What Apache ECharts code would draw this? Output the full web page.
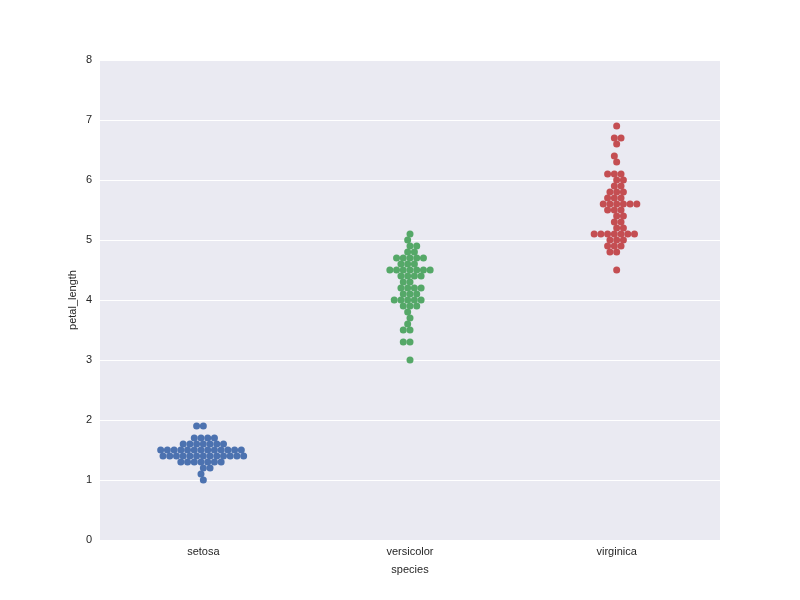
<!DOCTYPE html>
<html><head><meta charset="utf-8">
<script src="https://cdn.jsdelivr.net/npm/echarts@6/dist/echarts.min.js"></script>
<style>html,body{margin:0;padding:0;background:#fff}#c{width:800px;height:600px}</style>
</head><body><div id="c"></div>
<script>
var categories = ['setosa','versicolor','virginica'];
var setosa = [1.4,1.4,1.3,1.5,1.4,1.7,1.4,1.5,1.4,1.5,1.5,1.6,1.4,1.1,1.2,1.5,1.3,1.4,1.7,1.5,1.7,1.5,1.0,1.7,1.9,1.6,1.6,1.5,1.4,1.6,1.6,1.5,1.5,1.4,1.5,1.2,1.3,1.4,1.3,1.5,1.3,1.3,1.3,1.6,1.9,1.4,1.6,1.4,1.5,1.4];
var versicolor = [4.7,4.5,4.9,4.0,4.6,4.5,4.7,3.3,4.6,3.9,3.5,4.2,4.0,4.7,3.6,4.4,4.5,4.1,4.5,3.9,4.8,4.0,4.9,4.7,4.3,4.4,4.8,5.0,4.5,3.5,3.8,3.7,3.9,5.1,4.5,4.5,4.7,4.4,4.1,4.0,4.4,4.6,4.0,3.3,4.2,4.2,4.2,4.3,3.0,4.1];
var virginica = [6.0,5.1,5.9,5.6,5.8,6.6,4.5,6.3,5.8,6.1,5.1,5.3,5.5,5.0,5.1,5.3,5.5,6.7,6.9,5.0,5.7,4.9,6.7,4.9,5.7,6.0,4.8,4.9,5.6,5.8,6.1,6.4,5.6,5.1,5.6,6.1,5.6,5.5,4.8,5.4,5.6,5.1,5.1,5.9,5.7,5.2,5.0,5.2,5.4,5.1];
var yTicks = [0,1,2,3,4,5,6,7,8];
var colors = ['#4C72B0','#55A868','#C44E52'];

var GRID = {left:100, right:80, top:60, bottom:60};
var W = 800, H = 600;
var pxPerY = (H - GRID.top - GRID.bottom) / (yTicks[yTicks.length-1] - yTicks[0]);
var pxPerX = (W - GRID.left - GRID.right) / categories.length;
var D = 6.4;

function beeswarm(vals, center) {
  var pts = vals.map(function(v){ return {x:0, y:v*pxPerY, v:v}; });
  pts.sort(function(a,b){ return a.y - b.y; });
  var swarm = [pts[0]];
  for (var i = 1; i < pts.length; i++) {
    var p = pts[i];
    var nb = [];
    for (var j = swarm.length-1; j >= 0; j--) {
      if (p.y - swarm[j].y < D) nb.unshift(swarm[j]); else break;
    }
    var cands = [0];
    var leftFirst = true;
    nb.forEach(function(q){
      var dy = p.y - q.y;
      var dx = Math.sqrt(Math.max(D*D - dy*dy, 0)) * 1.05;
      if (leftFirst) cands.push(q.x - dx, q.x + dx); else cands.push(q.x + dx, q.x - dx);
      leftFirst = !leftFirst;
    });
    var idx = cands.map(function(c,k){return k;});
    idx.sort(function(a,b){ var d = Math.abs(cands[a]) - Math.abs(cands[b]); return d !== 0 ? d : a-b; });
    var chosen = 0;
    for (var k = 0; k < idx.length; k++) {
      var cx = cands[idx[k]];
      var ok = nb.every(function(q){ var ddx=q.x-cx, ddy=q.y-p.y; return ddx*ddx+ddy*ddy >= D*D - 1e-9; });
      if (ok) { chosen = cx; break; }
    }
    swarm.push({x:chosen, y:p.y, v:p.v});
  }
  return swarm.map(function(s){ return [center + s.x / pxPerX, s.v]; });
}

var groups = [setosa, versicolor, virginica];
var series = groups.map(function(g, i){
  return {type:'scatter', data: beeswarm(g, i), symbolSize: 7,
    itemStyle:{color: colors[i], opacity:1}, silent:true};
});

var chart = echarts.init(document.getElementById('c'), null, {renderer:'canvas'});
chart.setOption({
  animation:false,
  backgroundColor:'#fff',
  textStyle:{fontFamily:'Liberation Sans, Arial, sans-serif'},
  grid:{left:GRID.left, right:GRID.right, top:GRID.top, bottom:GRID.bottom, show:true, backgroundColor:'#EAEAF2', borderWidth:0},
  xAxis:{type:'value', min:-0.5, max:2.5, interval:0.5,
    axisLine:{show:false}, axisTick:{show:false}, splitLine:{show:false},
    axisLabel:{color:'#262626', fontSize:11, margin:6, showMinLabel:true, showMaxLabel:true,
      formatter:function(v){ var r=Math.round(v); return Math.abs(v-r)<1e-6 && r>=0 && r<categories.length ? categories[r] : ''; }},
    name:'species', nameLocation:'middle', nameGap:24, nameMoveOverlap:false, nameTextStyle:{color:'#262626', fontSize:11}},
  yAxis:{type:'value', min:yTicks[0], max:yTicks[yTicks.length-1], interval:1,
    axisLine:{show:false}, axisTick:{show:false},
    splitLine:{show:true, lineStyle:{color:'#ffffff', width:1}},
    axisLabel:{color:'#262626', fontSize:11, margin:8},
    name:'petal_length', nameLocation:'middle', nameGap:22, nameMoveOverlap:false, nameTextStyle:{color:'#262626', fontSize:11}},
  series: series
});
</script></body></html>
